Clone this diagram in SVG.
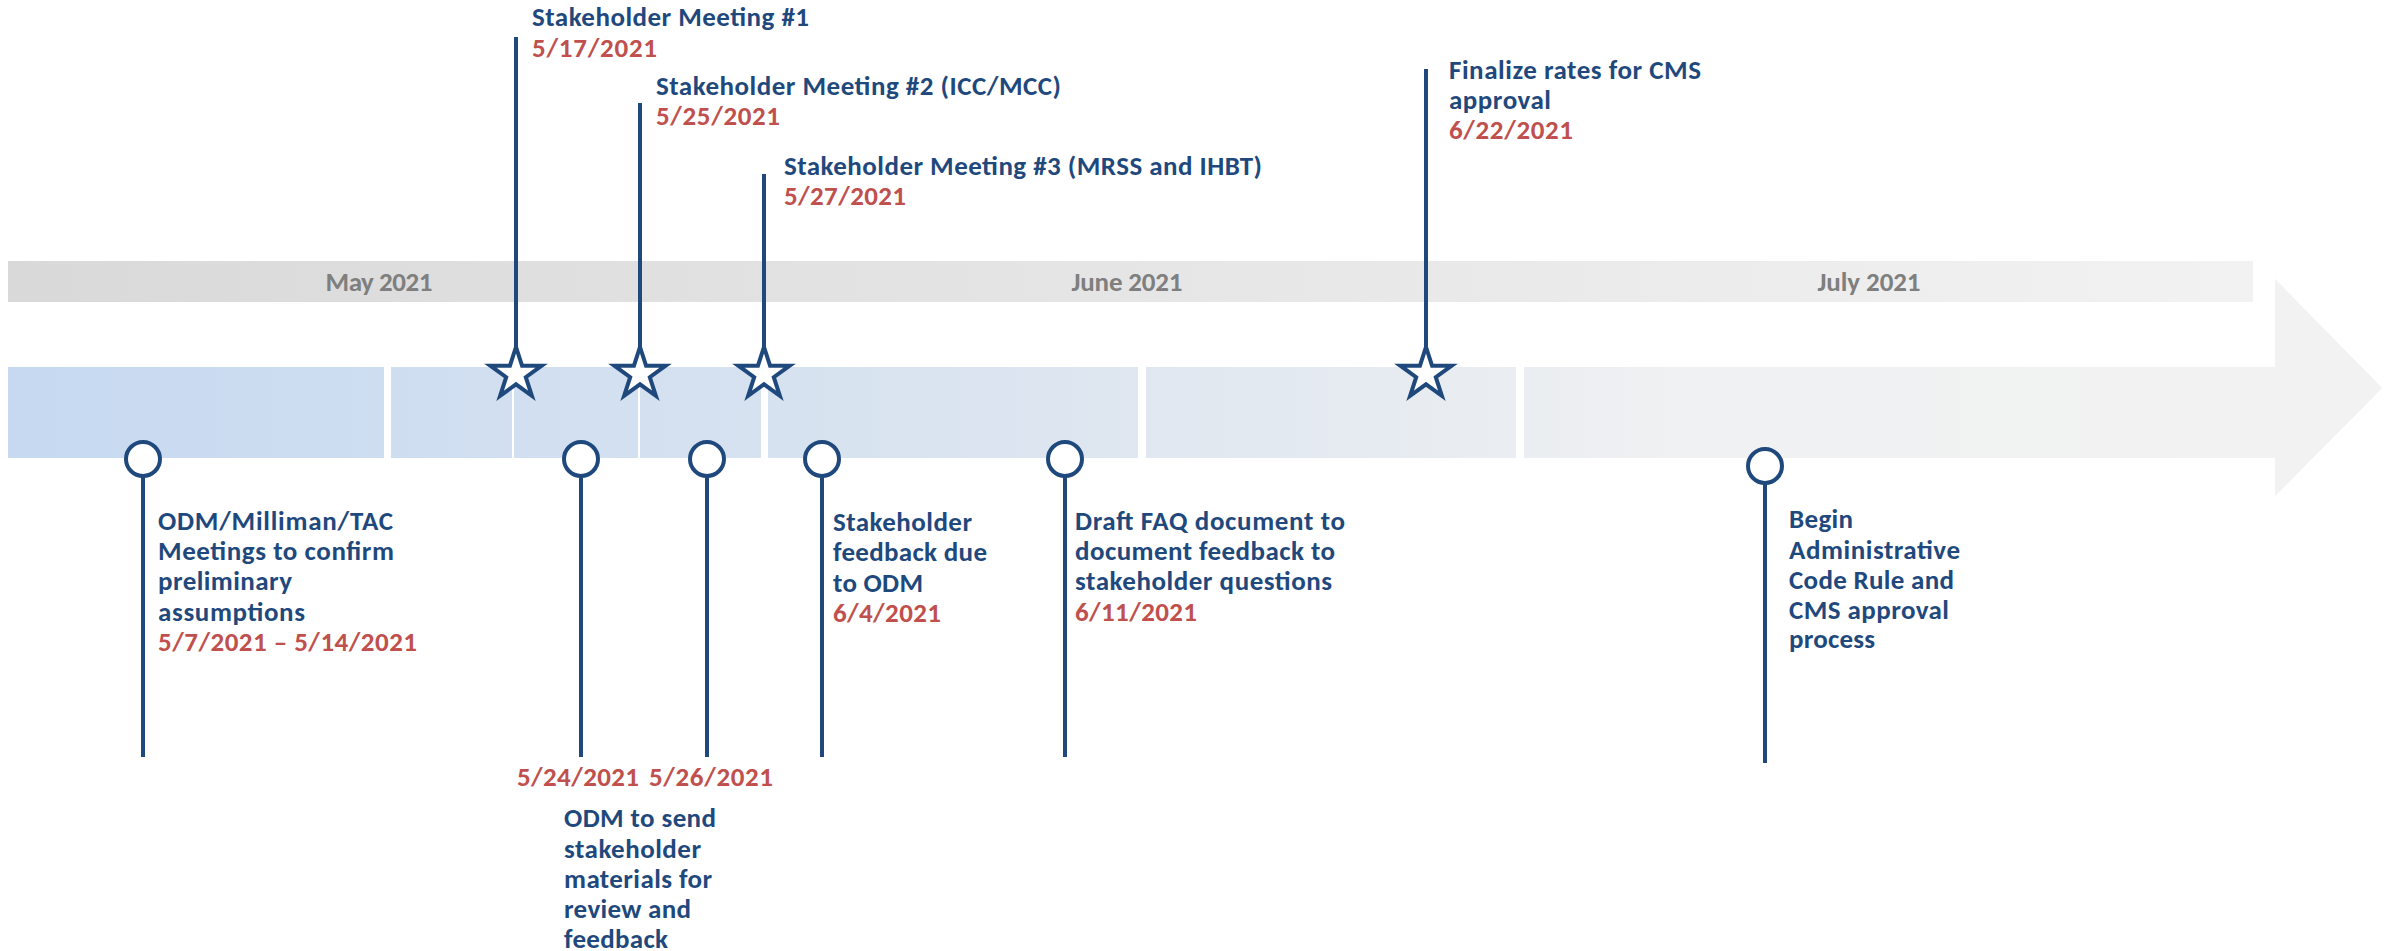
<svg xmlns="http://www.w3.org/2000/svg" width="2389" height="951" viewBox="0 0 2389 951">
<defs>
<linearGradient id="gBand" gradientUnits="userSpaceOnUse" x1="8" y1="0" x2="2253" y2="0">
<stop offset="0" stop-color="#d9d9d9"/>
<stop offset="1" stop-color="#f2f2f2"/>
</linearGradient>
<linearGradient id="gArrow" gradientUnits="userSpaceOnUse" x1="8" y1="0" x2="2275" y2="0">
<stop offset="0" stop-color="#c6d9f1"/>
<stop offset="0.45" stop-color="#dce5f0"/>
<stop offset="0.75" stop-color="#f0f1f2"/>
<stop offset="1" stop-color="#f2f2f2"/>
</linearGradient>
<path id="star" d="M0,-27 L6.05,-8.33 L25.68,-8.34 L9.8,3.18 L15.87,21.84 L0,10.3 L-15.87,21.84 L-9.8,3.18 L-25.68,-8.34 L-6.05,-8.33 Z"/>
</defs>
<style>
text{font-family:Calibri,Carlito,Lato,"Liberation Sans",sans-serif;font-weight:bold;font-size:27px}
.t{fill:#1f497d}
.d{fill:#c0504d}
.m{fill:#7f7f7f;text-anchor:middle}
.ln{stroke:#1f497d;stroke-width:4;fill:none}
.mk{stroke:#1f497d;stroke-width:4;fill:#ffffff;stroke-linejoin:miter}
.gap{fill:#ffffff}
</style>
<rect width="2389" height="951" fill="#ffffff"/>
<g id="background">
<rect x="8" y="261" width="2245" height="41" fill="url(#gBand)"/>
<polygon points="8,367 2275,367 2275,279 2382,388 2275,496 2275,458 8,458" fill="url(#gArrow)"/>
<polygon points="2275,279 2382,388 2275,496" fill="#f2f2f2"/>
<rect class="gap" x="384" y="365" width="7" height="95"/>
<rect class="gap" x="512" y="365" width="2" height="95"/>
<rect class="gap" x="638" y="365" width="2" height="95"/>
<rect class="gap" x="761" y="365" width="7" height="95"/>
<rect class="gap" x="1138" y="365" width="8" height="95"/>
<rect class="gap" x="1516" y="365" width="8" height="95"/>
<text class="m" x="379" y="291" textLength="107">May 2021</text>
<text class="m" x="1127" y="291" textLength="111">June 2021</text>
<text class="m" x="1869" y="291" textLength="103">July 2021</text>
</g>
<g id="connectors">
<line class="ln" x1="516" y1="37" x2="516" y2="374"/>
<line class="ln" x1="640" y1="103" x2="640" y2="374"/>
<line class="ln" x1="764" y1="174" x2="764" y2="374"/>
<line class="ln" x1="1426" y1="69" x2="1426" y2="374"/>
<line class="ln" x1="143" y1="459" x2="143" y2="757"/>
<line class="ln" x1="581" y1="459" x2="581" y2="757"/>
<line class="ln" x1="707" y1="459" x2="707" y2="757"/>
<line class="ln" x1="822" y1="459" x2="822" y2="757"/>
<line class="ln" x1="1065" y1="459" x2="1065" y2="757"/>
<line class="ln" x1="1765" y1="466" x2="1765" y2="763"/>
</g>
<g id="meeting1">
<use href="#star" class="mk" x="516" y="374"/>
<text class="t" x="532" y="26" textLength="277">Stakeholder Meeting #1</text>
<text class="d" x="532" y="57" textLength="125">5/17/2021</text>
</g>
<g id="meeting2">
<use href="#star" class="mk" x="640" y="374"/>
<text class="t" x="656" y="95" textLength="405">Stakeholder Meeting #2 (ICC/MCC)</text>
<text class="d" x="656" y="125" textLength="124">5/25/2021</text>
</g>
<g id="meeting3">
<use href="#star" class="mk" x="764" y="374"/>
<text class="t" x="784" y="175" textLength="478">Stakeholder Meeting #3 (MRSS and IHBT)</text>
<text class="d" x="784" y="205" textLength="122">5/27/2021</text>
</g>
<g id="finalize">
<use href="#star" class="mk" x="1426" y="374"/>
<text class="t" x="1449" y="79" textLength="252">Finalize rates for CMS</text>
<text class="t" x="1449" y="109" textLength="102">approval</text>
<text class="d" x="1449" y="139" textLength="124">6/22/2021</text>
</g>
<g id="odm-meetings">
<circle class="mk" cx="143" cy="459" r="17"/>
<text class="t" x="158" y="530" textLength="235">ODM/Milliman/TAC</text>
<text class="t" x="158" y="560" textLength="236">Meetings to confirm</text>
<text class="t" x="158" y="590" textLength="134">preliminary</text>
<text class="t" x="158" y="621" textLength="147">assumptions</text>
<text class="d" x="158" y="651" textLength="259">5/7/2021 – 5/14/2021</text>
</g>
<g id="odm-send-524">
<circle class="mk" cx="581" cy="459" r="17"/>
<text class="d" x="517" y="786" textLength="122">5/24/2021</text>
</g>
<g id="odm-send-526">
<circle class="mk" cx="707" cy="459" r="17"/>
<text class="d" x="649" y="786" textLength="124">5/26/2021</text>
</g>
<g id="odm-send-text">
<text class="t" x="564" y="827" textLength="152">ODM to send</text>
<text class="t" x="564" y="858" textLength="137">stakeholder</text>
<text class="t" x="564" y="888" textLength="148">materials for</text>
<text class="t" x="564" y="918" textLength="127">review and</text>
<text class="t" x="564" y="948" textLength="104">feedback</text>
</g>
<g id="feedback-due">
<circle class="mk" cx="822" cy="459" r="17"/>
<text class="t" x="833" y="531" textLength="139">Stakeholder</text>
<text class="t" x="833" y="561" textLength="154">feedback due</text>
<text class="t" x="833" y="592" textLength="90">to ODM</text>
<text class="d" x="833" y="622" textLength="108">6/4/2021</text>
</g>
<g id="draft-faq">
<circle class="mk" cx="1065" cy="459" r="17"/>
<text class="t" x="1075" y="530" textLength="270">Draft FAQ document to</text>
<text class="t" x="1075" y="560" textLength="260">document feedback to</text>
<text class="t" x="1075" y="590" textLength="257">stakeholder questions</text>
<text class="d" x="1075" y="621" textLength="122">6/11/2021</text>
</g>
<g id="begin-process">
<circle class="mk" cx="1765" cy="466" r="17"/>
<text class="t" x="1789" y="528" textLength="64">Begin</text>
<text class="t" x="1789" y="559" textLength="171">Administrative</text>
<text class="t" x="1789" y="589" textLength="165">Code Rule and</text>
<text class="t" x="1789" y="619" textLength="160">CMS approval</text>
<text class="t" x="1789" y="648" textLength="86">process</text>
</g>
</svg>
